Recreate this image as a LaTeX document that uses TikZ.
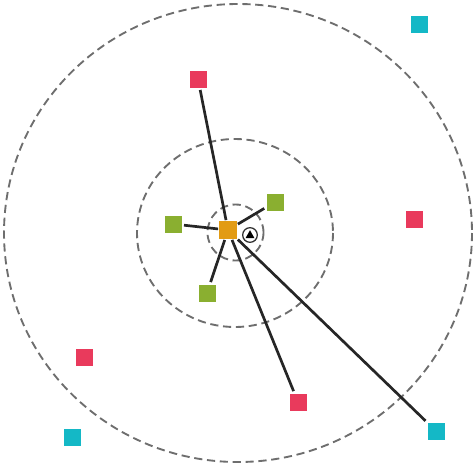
\documentclass[tikz,border=0pt]{standalone}
\usepackage{tikz}
\usetikzlibrary{positioning, calc}
\definecolor{hubc}{RGB}{226,155,20}
\definecolor{nearc}{RGB}{138,175,48}
\definecolor{midc}{RGB}{233,58,92}
\definecolor{farc}{RGB}{20,184,198}
\definecolor{ringc}{RGB}{110,110,110}

\begin{document}
\begin{tikzpicture}[x=0.03cm, y=-0.03cm,
  sq/.style={rectangle, inner sep=0pt, minimum size=0.54cm, draw=white, line width=0.4pt},
  ring/.style={ringc, line width=1.6pt, dash pattern=on 7pt off 4pt},
  link/.style={black!85, line width=2.3pt, shorten >=1.5pt}]

% canvas: 474 x 466 px, y downwards
\useasboundingbox (0,0) rectangle (474,466);

%% ── range rings ──────────────────────────────────────────────────
\draw[ring] (238,233) ellipse (234 and 229);
\draw[ring] (235,233) ellipse (98 and 94);
\draw[ring] (235.5,232.5) circle (28);

%% ── nodes ────────────────────────────────────────────────────────
\node[sq, fill=hubc, minimum size=0.58cm] (hub) at (228,230) {};
\node[circle, draw=black!80, fill=white, line width=1.1pt, minimum size=0.44cm, inner sep=0pt] (tri) at (250,235) {};
\fill[black] ($(tri)+(-4.5,3.2)$) -- ($(tri)+(4.5,3.2)$) -- ($(tri)+(0,-4.8)$) -- cycle;

\foreach \n/\p in {g1/{(173,224)}, g2/{(275,202)}, g3/{(207,293)}}
  \node[sq, fill=nearc] (\n) at \p {};
\foreach \n/\p in {r1/{(198,79)}, r2/{(414,219)}, r3/{(84,357)}, r4/{(298,402)}}
  \node[sq, fill=midc] (\n) at \p {};
\foreach \n/\p in {c1/{(419,24)}, c2/{(72,437)}, c3/{(436,431)}}
  \node[sq, fill=farc] (\n) at \p {};

%% ── links from the hub ───────────────────────────────────────────
\foreach \t in {g1, g2, g3, r1, r4, c3}
  \draw[link] (hub) -- (\t);

\end{tikzpicture}
\end{document}
